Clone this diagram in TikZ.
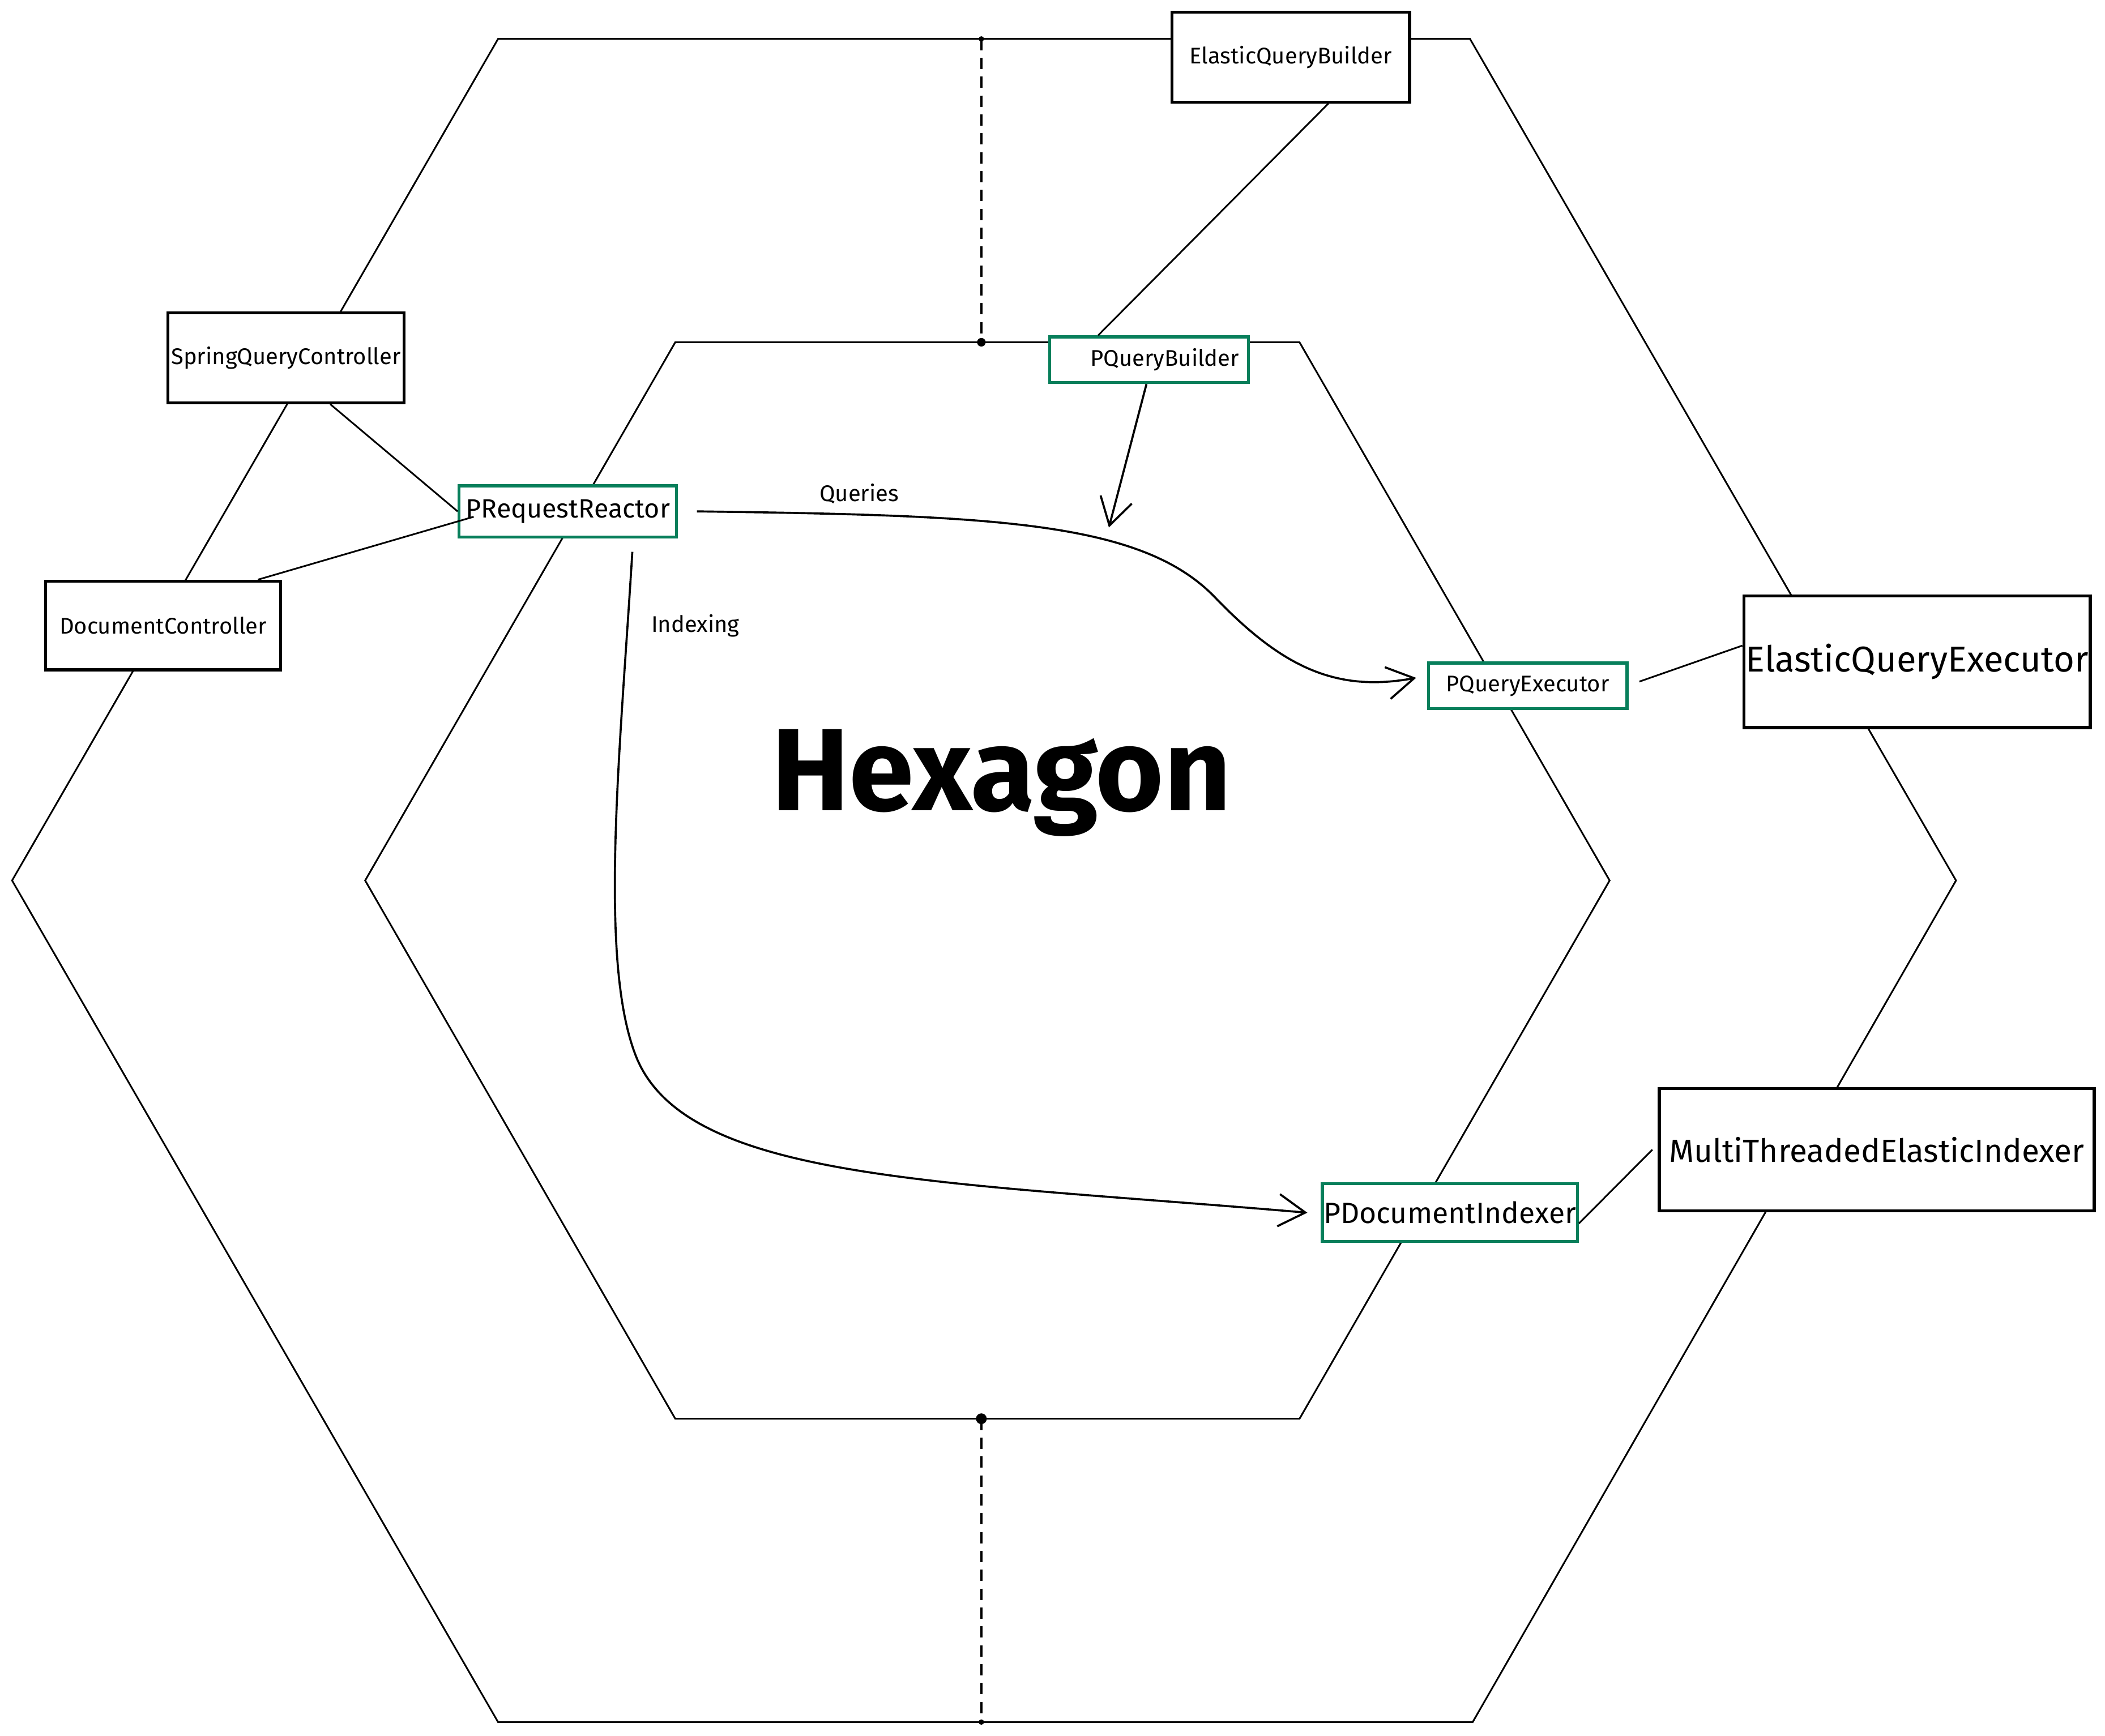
\documentclass[tikz,border=0pt]{standalone}
\usepackage{fontspec}
\setmainfont{Fira Sans}
\usetikzlibrary{positioning,arrows.meta}
\definecolor{portgreen}{RGB}{8,127,91}

\begin{document}
\begin{tikzpicture}[x=0.025cm,y=-0.025cm,line width=0.9pt,
  >={Straight Barb[length=5mm,width=6mm]},
  adapter/.style={draw,line width=1.6pt,fill=white,inner sep=0pt},
  port/.style={draw=portgreen,line width=1.6pt,fill=white,inner sep=0pt},
  small/.style={font=\fontsize{12}{14}\selectfont},
  big/.style={font=\fontsize{17}{20}\selectfont}]
\useasboundingbox (0,0) rectangle (1568,1293);

% Outer hexagon
\draw (371,29) -- (1095,29) -- (1457,656) -- (1097,1283) -- (371,1283) -- (9,656) -- cycle;

% Inner hexagon
\draw (503,255) -- (968,255) -- (1199,656) -- (968,1057) -- (503,1057) -- (272,656) -- cycle;

% Split lines
\draw[line width=1.2pt,dash pattern=on 6pt off 4pt] (731,29) -- (731,255);
\draw[line width=1.2pt,dash pattern=on 6pt off 4pt] (731,1057) -- (731,1283);
\fill (731,29) circle (0.05cm);
\fill (731,255) circle (0.08cm);
\fill (731,1057) circle (0.1cm);
\fill (731,1283) circle (0.05cm);

% Title
\node[font=\bfseries\fontsize{62}{70}\selectfont,anchor=base] (title) at (746,604) {Hexagon};

% Adapters
\node[adapter,small,minimum width=4.425cm,minimum height=1.675cm] (esbuilder) at (961.5,42.5) {ElasticQueryBuilder};
\node[adapter,small,minimum width=4.4cm,minimum height=1.675cm] (springctl) at (213,266.5) {SpringQueryController};
\node[adapter,small,minimum width=4.375cm,minimum height=1.65cm] (docctl) at (121.5,466) {DocumentController};
\node[adapter,font=\fontsize{19}{22}\selectfont,minimum width=6.45cm,minimum height=2.45cm] (esexec) at (1428,493) {ElasticQueryExecutor};
\node[adapter,big,minimum width=8.1cm,minimum height=2.275cm] (esindexer) at (1398,856.5) {MultiThreadedElasticIndexer};

% Ports
\node[port,font=\fontsize{14}{16}\selectfont,minimum width=4.05cm,minimum height=0.95cm] (reactor) at (423,381) {PRequestReactor};
\node[port,small,minimum width=3.7cm,minimum height=0.85cm,text width=3.35cm,align=right] (qbuilder) at (856,268) {PQueryBuilder\hspace*{0.2cm}};
\node[port,small,minimum width=3.7cm,minimum height=0.85cm] (qexec) at (1138,511) {PQueryExecutor};
\node[port,font=\fontsize{15.5}{18}\selectfont,minimum width=4.75cm,minimum height=1.075cm] (docindexer) at (1080,903.5) {PDocumentIndexer};

% Labels
\node[small] (queries) at (640,368) {Queries};
\node[small] (indexing) at (518,466) {Indexing};

% Links
\draw ([xshift=0.7cm]esbuilder.south) -- ([xshift=-0.95cm]qbuilder.north);
\draw ([xshift=0.825cm]springctl.south) -- (reactor.west);
\draw ([xshift=-0.45cm]docctl.north east) -- ([xshift=0.3cm,yshift=-0.1cm]reactor.west);
\draw ([xshift=0.2cm,yshift=0.08cm]qexec.east) -- ([yshift=0.3cm]esexec.west);
\draw ([yshift=-0.2cm]docindexer.east) -- ([xshift=-0.1cm]esindexer.west);

% Flows
\coordinate (qhit) at (826,393);
\draw[line width=1.1pt,->] ([xshift=-0.05cm]qbuilder.south) -- (qhit);
\draw[line width=1.1pt,->] ([xshift=0.35cm]reactor.east) .. controls (740,384) and (850,388) .. (905,445)
  .. controls (955,497) and (995,516) .. ([xshift=-0.2cm,yshift=0.15cm]qexec.west);
\draw[line width=1.1pt,->] ([xshift=1.2cm,yshift=-0.25cm]reactor.south) .. controls (462,560) and (445,720) .. (475,790)
  .. controls (515,880) and (700,880) .. ([xshift=-0.25cm]docindexer.west);
\end{tikzpicture}
\end{document}
